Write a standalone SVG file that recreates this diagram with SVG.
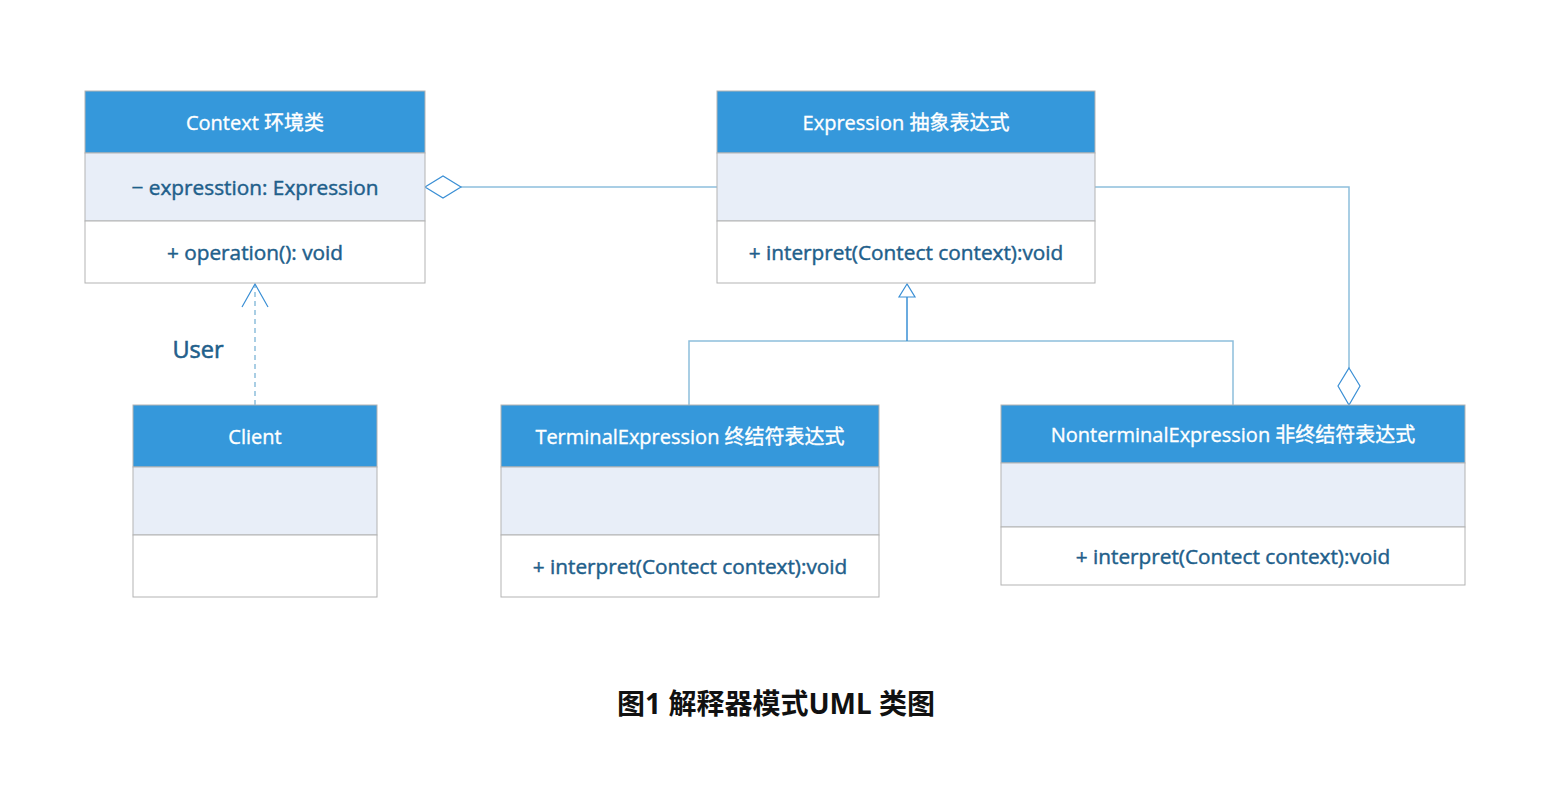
<svg xmlns="http://www.w3.org/2000/svg" width="1568" height="786" viewBox="0 0 1568 786">
<style>
.hdr{fill:#3598db;stroke:#b3b3b3;stroke-width:1}
.att{fill:#e8eef8;stroke:#b3b3b3;stroke-width:1}
.ops{fill:#ffffff;stroke:#b3b3b3;stroke-width:1}
.ht{font-family:"Open Sans","Noto Sans","Noto Sans CJK SC",sans-serif;font-size:20px;fill:#ffffff;stroke:#ffffff;stroke-width:0.35;text-anchor:middle;dominant-baseline:central}
.bt{font-family:"Open Sans","Noto Sans","Noto Sans CJK SC",sans-serif;font-size:20.8px;fill:#1f5f8b;stroke:#1f5f8b;stroke-width:0.45;text-anchor:middle;dominant-baseline:central}
.ln{fill:none;stroke:#8dbedc;stroke-width:1.5}
.dm{fill:#ffffff;stroke:#3a8fd5;stroke-width:1.2}
</style>
<rect width="1568" height="786" fill="#ffffff"/>
<g id="connectors">
  <line class="ln" x1="461" y1="187" x2="717" y2="187"/>
  <polygon class="dm" points="425,187 443,176 461,187 443,198"/>
  <line class="ln" x1="255" y1="405" x2="255" y2="285" stroke-dasharray="5,4"/>
  <polyline fill="none" stroke="#3a8fd5" stroke-width="1.2" points="242,307 255,284 268,307"/>
  <polyline class="ln" points="689,405 689,341 1233,341 1233,405"/>
  <line x1="907" y1="341" x2="907" y2="297" stroke="#3a8fd5" stroke-width="1.5"/>
  <polygon fill="#ffffff" stroke="#3a8fd5" stroke-width="1.2" points="907,284 899,297 915,297"/>
  <polyline class="ln" points="1095,187 1349,187 1349,368"/>
  <polygon class="dm" points="1349,368 1360,386 1349,405 1338,386"/>
  <text x="198" y="349" class="bt" style="font-size:23.5px;stroke-width:0.6">User</text>
</g>
<g id="context">
  <rect class="hdr" x="85" y="91" width="340" height="62"/>
  <rect class="att" x="85" y="153" width="340" height="68"/>
  <rect class="ops" x="85" y="221" width="340" height="62"/>
  <text class="ht" x="255" y="122">Context 环境类</text>
  <text class="bt" x="255" y="187">− expresstion: Expression</text>
  <text class="bt" x="255" y="252">+ operation(): void</text>
</g>
<g id="expression">
  <rect class="hdr" x="717" y="91" width="378" height="62"/>
  <rect class="att" x="717" y="153" width="378" height="68"/>
  <rect class="ops" x="717" y="221" width="378" height="62"/>
  <text class="ht" x="906" y="122">Expression 抽象表达式</text>
  <text class="bt" x="906" y="252">+ interpret(Contect context):void</text>
</g>
<g id="client">
  <rect class="hdr" x="133" y="405" width="244" height="62"/>
  <rect class="att" x="133" y="467" width="244" height="68"/>
  <rect class="ops" x="133" y="535" width="244" height="62"/>
  <text class="ht" x="255" y="436">Client</text>
</g>
<g id="terminal">
  <rect class="hdr" x="501" y="405" width="378" height="62"/>
  <rect class="att" x="501" y="467" width="378" height="68"/>
  <rect class="ops" x="501" y="535" width="378" height="62"/>
  <text class="ht" x="690" y="436">TerminalExpression 终结符表达式</text>
  <text class="bt" x="690" y="566">+ interpret(Contect context):void</text>
</g>
<g id="nonterminal">
  <rect class="hdr" x="1001" y="405" width="464" height="58"/>
  <rect class="att" x="1001" y="463" width="464" height="64"/>
  <rect class="ops" x="1001" y="527" width="464" height="58"/>
  <text class="ht" x="1233" y="434">NonterminalExpression 非终结符表达式</text>
  <text class="bt" x="1233" y="556">+ interpret(Contect context):void</text>
</g>
<text x="776" y="703" font-family="'Noto Sans','Noto Sans CJK SC',sans-serif" font-size="28" font-weight="bold" fill="#111111" text-anchor="middle" dominant-baseline="central">图1 解释器模式UML 类图</text>
</svg>
